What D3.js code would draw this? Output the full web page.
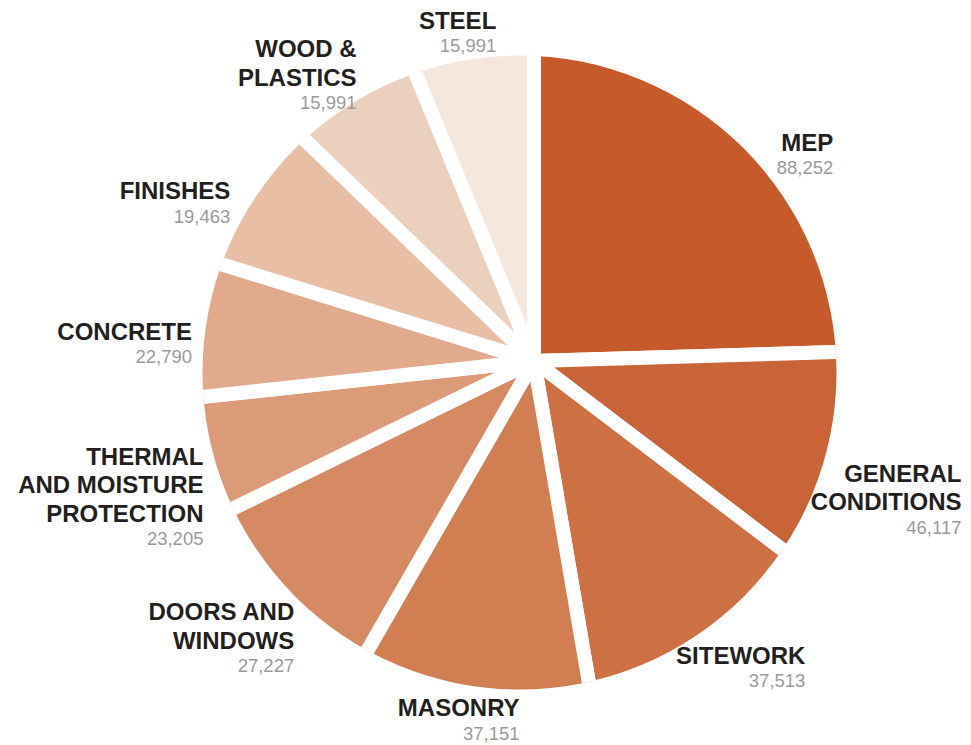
<!DOCTYPE html>
<html><head><meta charset="utf-8">
<script src="https://cdn.jsdelivr.net/npm/d3@7"></script>
<style>html,body{margin:0;padding:0;background:#fff;} svg{display:block;}</style>
</head><body>
<script>
// ---- data ----
const categories = ["MEP", "GENERAL\nCONDITIONS", "SITEWORK", "MASONRY", "DOORS AND\nWINDOWS",
  "THERMAL\nAND MOISTURE\nPROTECTION", "CONCRETE", "FINISHES", "WOOD &\nPLASTICS", "STEEL"];
const values = [88252, 46117, 37513, 37151, 27227, 23205, 22790, 19463, 15991, 15991];
// share of the circle each slice occupies in the reference drawing (percent)
const sliceShare = [24.53, 10.81, 11.97, 11.00, 9.44, 5.53, 6.50, 7.44, 6.56, 6.22];

// ---- style ----
const palette = ["#C65A2B", "#C86437", "#CD7144", "#D27E53", "#D68A64",
  "#DC9B78", "#E1AA8C", "#E8BEA5", "#ECD0BE", "#F5E7DE"];
const labelNudge = [[28, 32], [-22, 16], [-14, -4], [-3, 3], [15, 17], [0, 19], [0, 4], [-6, 8], [22, 3], [2, 2]];

const W = 971, H = 745;
const C = {x: 519.5, y: 372.5}, R = 317;   // outline disc
const P = {x: 534, y: 361};               // point where the slices meet
const GAP = 14;
const FONT = "'Liberation Sans', Arial, Helvetica, sans-serif";

const svg = d3.select("body").append("svg").attr("width", W).attr("height", H)
  .style("background", "#fff");

svg.append("defs").append("clipPath").attr("id", "disc")
  .append("circle").attr("cx", C.x).attr("cy", C.y).attr("r", R);

const pie = d3.pie().sort(null).value(i => sliceShare[i]);
const arcsData = pie(categories.map((_, i) => i));
const arc = d3.arc().innerRadius(0).outerRadius(R + 60);

const gPie = svg.append("g").attr("clip-path", "url(#disc)")
  .append("g").attr("transform", `translate(${P.x},${P.y})`);

gPie.selectAll("path").data(arcsData).join("path")
  .attr("d", arc)
  .attr("fill", d => palette[d.data])
  .attr("stroke", "#fff")
  .attr("stroke-width", GAP)
  .attr("stroke-linejoin", "round");

// ---- labels ----
const fmt = d3.format(",");
const LINE = 28.5, VAL = 23.5, CAP = 17;
const gLab = svg.append("g");

arcsData.forEach(a => {
  const i = a.data;
  const mid = (a.startAngle + a.endAngle) / 2;
  const ux = Math.sin(mid), uy = -Math.cos(mid);
  const ax = C.x + (R + 12) * ux, ay = C.y + (R + 12) * uy;
  const lines = categories[i].split("\n");
  const g = gLab.append("g");
  const widths = [];
  lines.forEach((t, k) => {
    const tx = g.append("text").text(t)
      .attr("x", 0).attr("y", k * LINE)
      .attr("text-anchor", "end")
      .style("font-family", FONT).style("font-weight", "bold")
      .style("font-size", "24px").attr("fill", "#231f20");
    widths.push(tx.node().getComputedTextLength());
  });
  const vy = (lines.length - 1) * LINE + VAL;
  const vt = g.append("text").text(fmt(values[i]))
    .attr("x", 0).attr("y", vy)
    .attr("text-anchor", "end")
    .style("font-family", FONT).style("font-size", "18.5px").attr("fill", "#9a9a9a");
  widths.push(vt.node().getComputedTextLength());
  const bw = d3.max(widths);
  const top = -CAP, bottom = vy;
  const h = (bottom - top) / 2, cRel = (top + bottom) / 2;
  const xr = ux > 0.3 ? ax + bw : (ux < -0.3 ? ax : ax + bw / 2);
  const cy = ay + uy * h;
  const [dx, dy] = labelNudge[i];
  g.attr("transform", `translate(${xr + dx},${cy + dy - cRel})`);
});
</script>
</body></html>
